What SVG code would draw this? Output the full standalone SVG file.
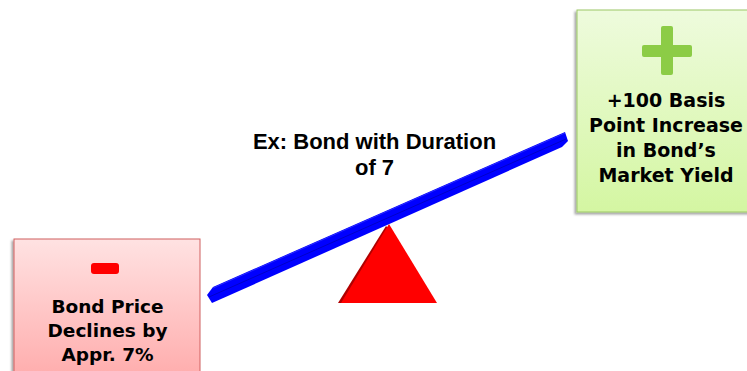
<svg xmlns="http://www.w3.org/2000/svg" width="747" height="371" viewBox="0 0 747 371">
  <defs>
    <linearGradient id="gGreen" x1="0" y1="0" x2="0" y2="1">
      <stop offset="0" stop-color="#eefbdd"/>
      <stop offset="1" stop-color="#d4f6a2"/>
    </linearGradient>
    <linearGradient id="gRed" x1="0" y1="0" x2="0" y2="1">
      <stop offset="0" stop-color="#ffe2e2"/>
      <stop offset="1" stop-color="#ffa8a8"/>
    </linearGradient>
    <filter id="shadow" x="-10%" y="-10%" width="120%" height="120%">
      <feDropShadow dx="-2" dy="2" stdDeviation="1.2" flood-color="#000" flood-opacity="0.35"/>
    </filter>
  </defs>
  <style>
    .box-text { font-family: "DejaVu Sans", Verdana, sans-serif; font-weight: bold; fill: #000; text-anchor: middle; }
    .title { font-family: "Liberation Sans", Arial, sans-serif; font-weight: bold; font-size: 22px; fill: #000; text-anchor: middle; }
  </style>
  <rect width="747" height="371" fill="#fff"/>

  <g id="fulcrum">
    <polygon points="386,226 338,303 344,303 389,229" fill="#b00000"/>
    <polygon points="389,224 437,303 341,303" fill="#ff0000"/>
  </g>

  <g id="plank">
    <polygon points="207,295 213,287 565,132 568,141 562,147 212,303" fill="#0000ff"/>
    <line x1="209" y1="297" x2="566" y2="139" stroke="#0000c8" stroke-width="1"/>
    <line x1="213" y1="288" x2="565" y2="133" stroke="#2a2aff" stroke-width="1"/>
  </g>

  <g id="title">
    <text class="title" x="374.5" y="149">Ex: Bond with Duration</text>
    <text class="title" x="374.5" y="175">of 7</text>
  </g>

  <g id="yield-box">
    <rect x="577" y="10" width="185" height="202" fill="url(#gGreen)" stroke="#9cc766" stroke-width="1" filter="url(#shadow)"/>
    <rect x="661" y="26" width="12" height="49" rx="2" fill="#8ccc46"/>
    <rect x="642" y="45" width="50" height="12" rx="2" fill="#8ccc46"/>
    <text class="box-text" font-size="19" x="666" y="107">+100 Basis</text>
    <text class="box-text" font-size="19" x="666" y="132">Point Increase</text>
    <text class="box-text" font-size="19" x="666" y="157">in Bond’s</text>
    <text class="box-text" font-size="19" x="666" y="182">Market Yield</text>
  </g>

  <g id="price-box">
    <rect x="14" y="239" width="186" height="150" fill="url(#gRed)" stroke="#d06060" stroke-width="1" filter="url(#shadow)"/>
    <rect x="91" y="263" width="28" height="11" rx="3" fill="#ff0000"/>
    <text class="box-text" font-size="18.5" x="107.5" y="313">Bond Price</text>
    <text class="box-text" font-size="18.5" x="107.5" y="337">Declines by</text>
    <text class="box-text" font-size="18.5" x="107.5" y="361">Appr. 7%</text>
  </g>

  <g id="connectors"></g>
</svg>
